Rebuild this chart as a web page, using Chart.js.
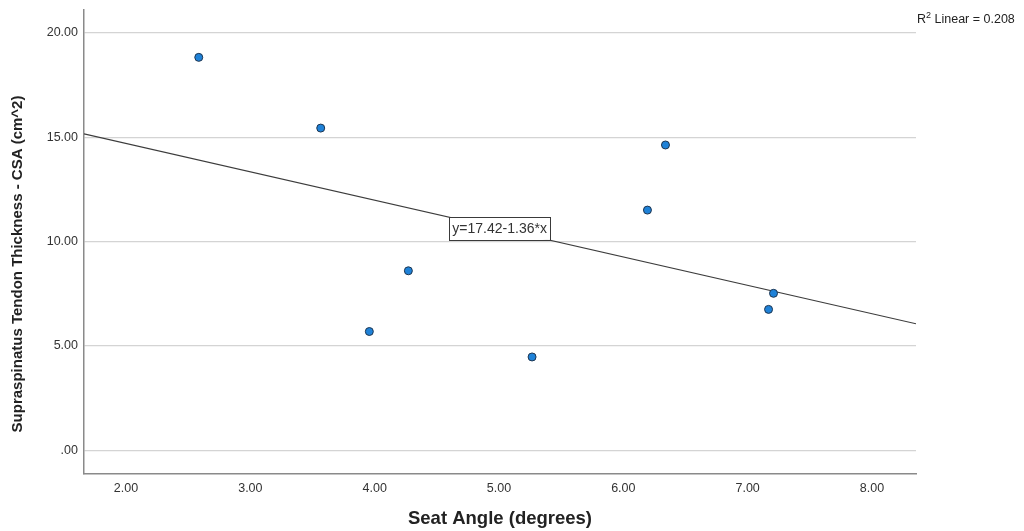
<!DOCTYPE html>
<html>
<head>
<meta charset="utf-8">
<script src="https://cdn.jsdelivr.net/npm/chart.js@4.4.1/dist/chart.umd.min.js"></script>
<style>
html,body{margin:0;padding:0;background:#fff;}
#wrap{width:1024px;height:531px;position:relative;}
</style>
</head>
<body>
<div id="wrap"><canvas id="c" width="1024" height="531"></canvas></div>
<script>
// Data
const seatAngle = [2.585, 3.566, 3.957, 4.271, 5.266, 6.194, 6.339, 7.168, 7.208];
const tendonCSA = [18.83, 15.44, 5.69, 8.60, 4.47, 11.51, 14.63, 6.75, 7.52];
const fitLineX = [1.662, 8.354];
const fitLineY = [15.16, 6.06];
const xTickValues = [2, 3, 4, 5, 6, 7, 8];
const yTickValues = [0, 5, 10, 15, 20];
const equationText = "y=17.42-1.36*x";
const equationPos = [5.005, 10.63];
const r2Text = ["R", "2", " Linear = 0.208"];
const xTitle = "Seat Angle (degrees)";
const yTitle = "Supraspinatus Tendon Thickness - CSA (cm^2)";

const FONT = '"Liberation Sans", Arial, sans-serif';

const annot = {
  id: 'annot',
  afterDatasetsDraw(chart) {
    const ctx = chart.ctx;
    const xs = chart.scales.x, ys = chart.scales.y;
    ctx.save();
    ctx.font = '14px ' + FONT;
    const cx = xs.getPixelForValue(equationPos[0]);
    const cy = ys.getPixelForValue(equationPos[1]);
    const w = ctx.measureText(equationText).width + 6;
    const h = 23;
    ctx.fillStyle = '#fff';
    ctx.fillRect(cx - w/2, cy - h/2, w, h);
    ctx.strokeStyle = '#3a3a3a';
    ctx.lineWidth = 1;
    ctx.strokeRect(Math.round(cx - w/2) + 0.5, Math.round(cy - h/2) + 0.5, Math.round(w), h);
    ctx.fillStyle = '#333';
    ctx.textAlign = 'center';
    ctx.textBaseline = 'middle';
    ctx.fillText(equationText, cx, cy + 1);
    ctx.restore();
  },
  afterDraw(chart) {
    const ctx = chart.ctx;
    const ca = chart.chartArea;
    ctx.save();
    ctx.fillStyle = '#222';
    ctx.textBaseline = 'alphabetic';
    ctx.textAlign = 'left';
    let x = ca.right + 1;
    const base = 23;
    ctx.font = '12.5px ' + FONT;
    ctx.fillText(r2Text[0], x, base);
    x += ctx.measureText(r2Text[0]).width;
    ctx.font = '9px ' + FONT;
    ctx.fillText(r2Text[1], x, base - 5);
    x += ctx.measureText(r2Text[1]).width;
    ctx.font = '12.5px ' + FONT;
    ctx.fillText(r2Text[2], x, base);
    // X title
    ctx.font = 'bold 18.5px ' + FONT;
    ctx.textAlign = 'center';
    ctx.textBaseline = 'middle';
    ctx.fillText(xTitle, (ca.left + ca.right) / 2, 519);
    // Y title
    ctx.translate(18, 264);
    ctx.rotate(-Math.PI / 2);
    ctx.font = 'bold 15px ' + FONT;
    ctx.fillText(yTitle, 0, 0);
    ctx.restore();
  }
};

new Chart(document.getElementById('c'), {
  type: 'scatter',
  data: {
    datasets: [
      {
        type: 'line',
        data: fitLineX.map((v, i) => ({x: v, y: fitLineY[i]})),
        borderColor: '#3c3c3c',
        borderWidth: 1.2,
        pointRadius: 0,
        fill: false,
        order: 2
      },
      {
        data: seatAngle.map((v, i) => ({x: v, y: tendonCSA[i]})),
        pointRadius: 4,
        pointBackgroundColor: '#1f82d8',
        pointBorderColor: '#1d3550',
        pointBorderWidth: 1,
        order: 1
      }
    ]
  },
  options: {
    responsive: false,
    animation: false,
    events: [],
    layout: { padding: { left: 0, right: 108, top: 10, bottom: 0 } },
    plugins: { legend: { display: false }, tooltip: { enabled: false } },
    scales: {
      x: {
        type: 'linear',
        min: 1.662, max: 8.354,
        afterBuildTicks: s => { s.ticks = xTickValues.map(v => ({value: v})); },
        afterFit: s => { s.height = 57; s.paddingLeft = 0; s.paddingRight = 0; },
        ticks: {
          padding: 7,
          color: '#333',
          font: { family: FONT, size: 12.5 },
          callback: v => v.toFixed(2)
        },
        grid: { display: false, drawTicks: false },
        border: { display: true, color: '#8a8a8a', width: 1.5 }
      },
      y: {
        type: 'linear',
        min: -1.14, max: 21.1,
        afterBuildTicks: s => { s.ticks = yTickValues.map(v => ({value: v})); },
        afterFit: s => { s.width = 84; s.paddingTop = 0; s.paddingBottom = 0; },
        ticks: {
          padding: 6,
          color: '#333',
          font: { family: FONT, size: 12.5 },
          callback: v => v === 0 ? '.00' : v.toFixed(2)
        },
        grid: { display: true, drawTicks: false, color: '#d4d4d4', lineWidth: 1.3 },
        border: { display: true, color: '#8a8a8a', width: 1.5 }
      }
    }
  },
  plugins: [annot]
});
</script>
</body>
</html>
